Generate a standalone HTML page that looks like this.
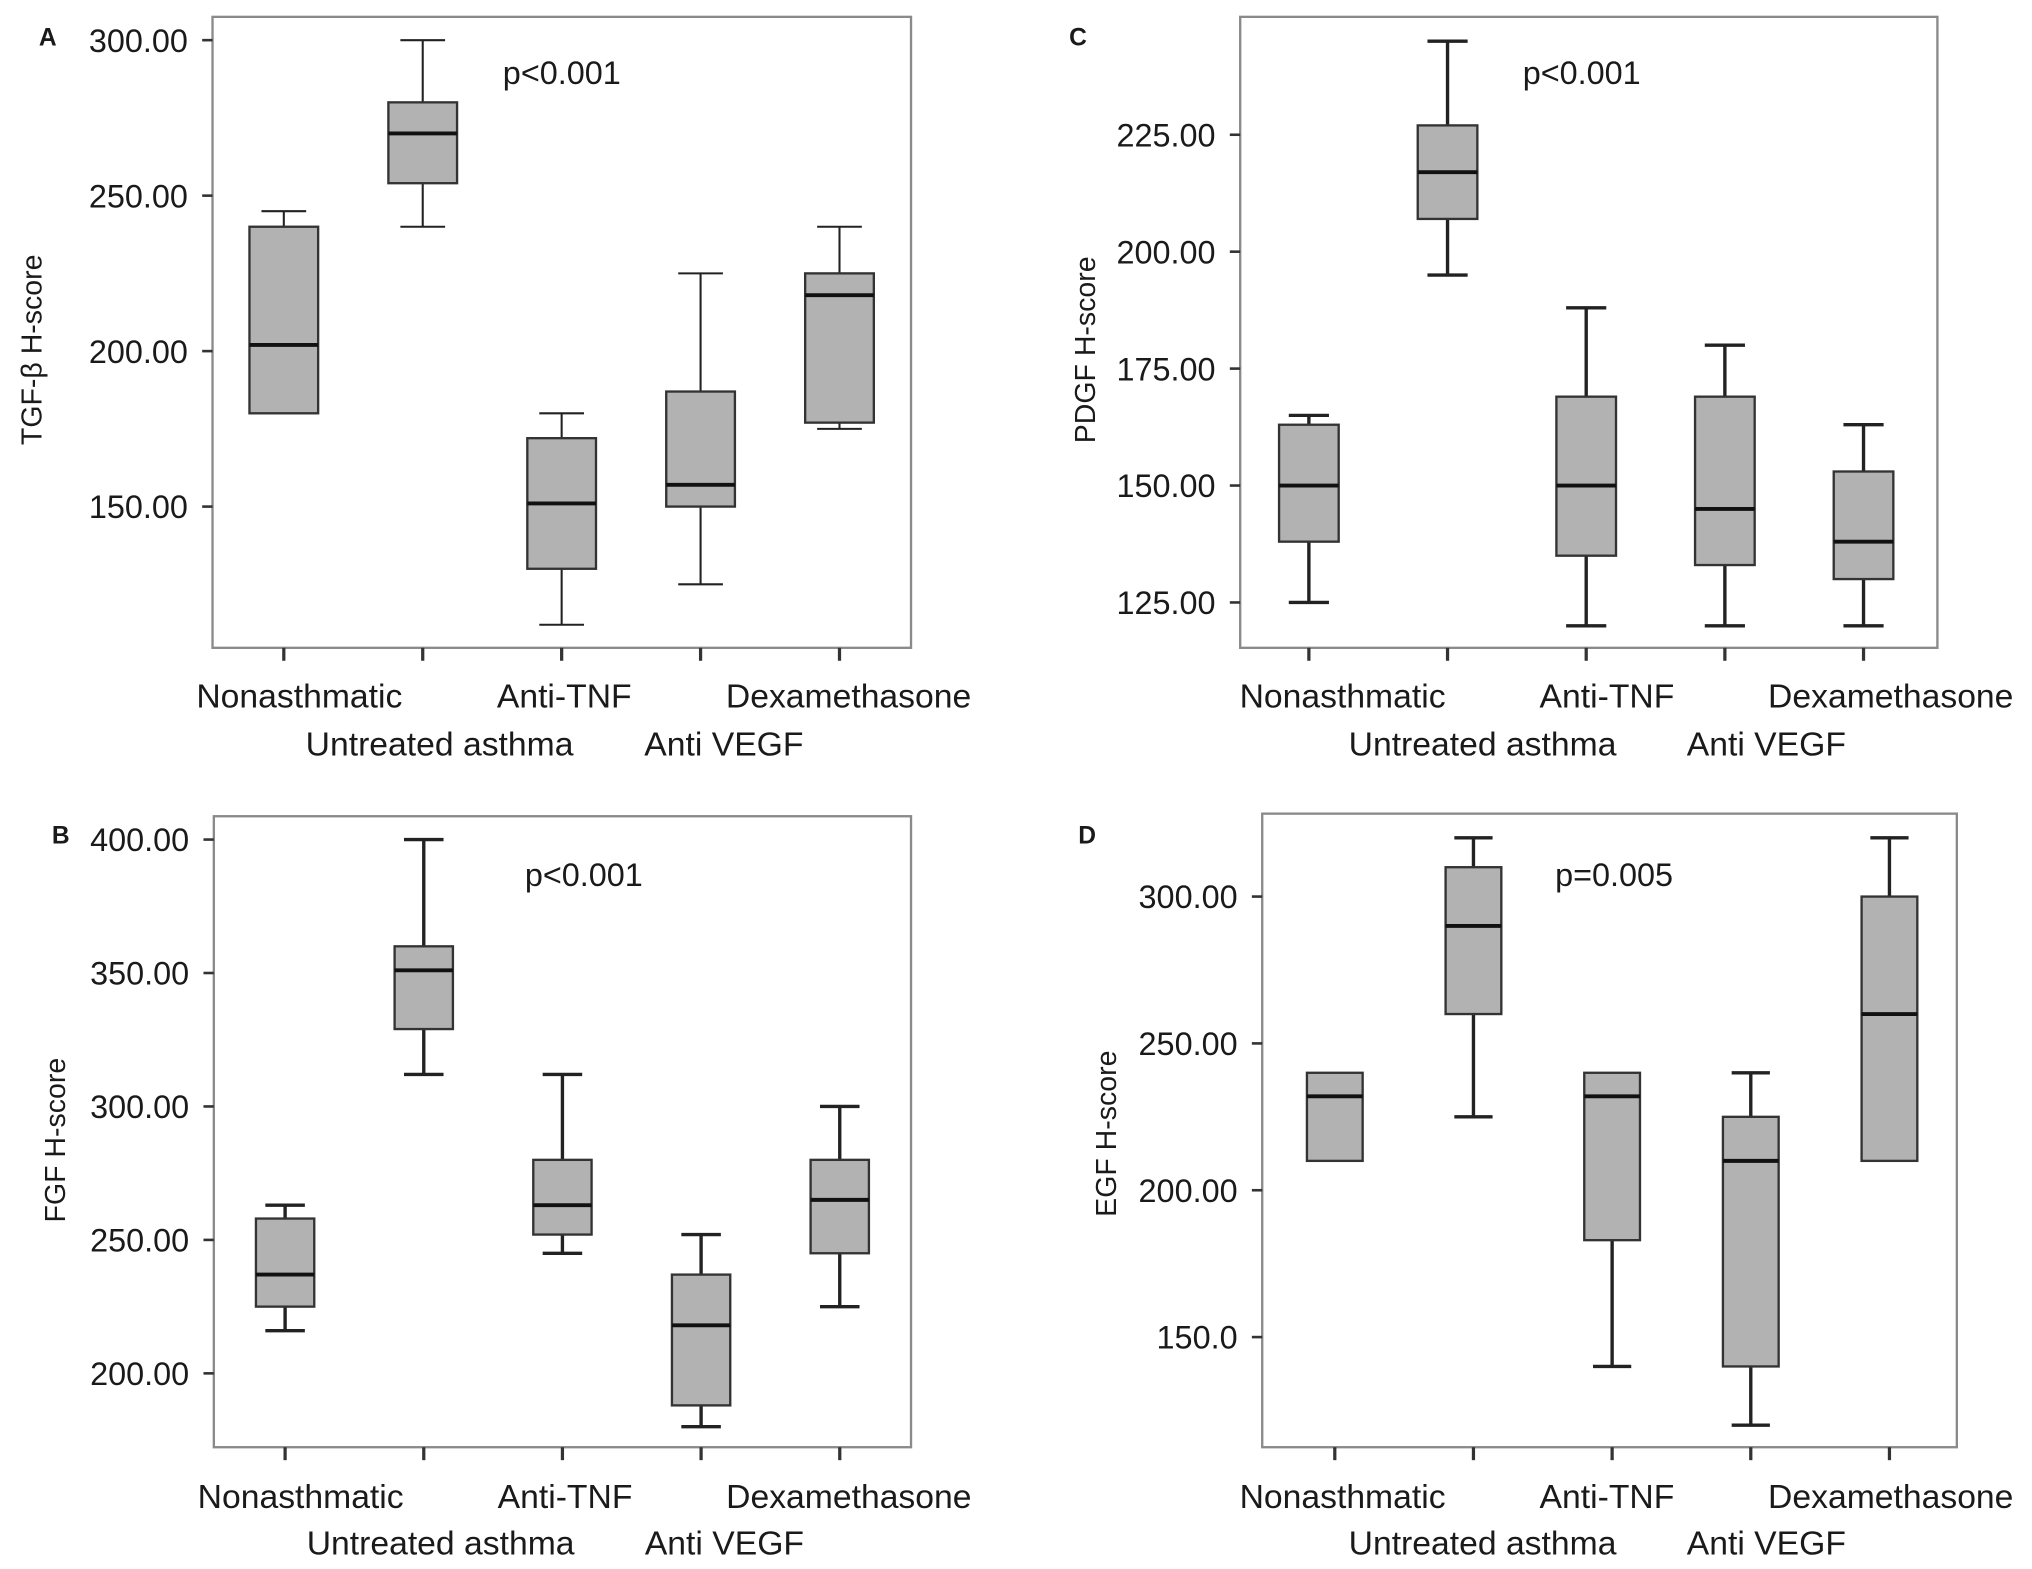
<!DOCTYPE html>
<html><head><meta charset="utf-8"><style>
html,body{margin:0;padding:0;background:#fff}
svg{display:block}
text{font-family:"Liberation Sans",Arial,sans-serif;fill:#1a1a1a}
</style></head><body>
<svg id="fig" width="2032" height="1569" viewBox="0 0 1568 1211" preserveAspectRatio="none" xmlns="http://www.w3.org/2000/svg"></svg>
<script>
const categories = ["Nonasthmatic","Untreated asthma","Anti-TNF","Anti VEGF","Dexamethasone"];
// [min, q1, median, q3, max]
const tgfValues = [[180,180,202,240,245],[240,254,270,280,300],[112,130,151,172,180],[125,150,157,187,225],[175,177,218,225,240]];
const pdgfValues = [[125,138,150,163,165],[195,207,217,227,245],[120,135,150,169,188],[120,133,145,169,180],[120,130,138,153,163]];
const fgfValues = [[216,225,237,258,263],[312,329,351,360,400],[245,252,263,280,312],[180,188,218,237,252],[225,245,265,280,300]];
const egfValues = [[210,210,232,240,240],[225,260,290,310,320],[140,183,232,240,240],[120,140,210,225,240],[210,210,260,300,320]];
const tgfTicks = [150,200,250,300];
const pdgfTicks = [125,150,175,200,225];
const fgfTicks = [200,250,300,350,400];
const egfTicks = [150,200,250,300];

const NS="http://www.w3.org/2000/svg";
const svg=document.getElementById('fig');
function mk(tag,attrs,parent){const e=document.createElementNS(NS,tag);for(const k in attrs)e.setAttribute(k,attrs[k]);(parent||svg).appendChild(e);return e;}
const labelShift=[12,13,2,18,7];

const panels=[
 {id:'a',letter:'A',title:'TGF-β H-score',p:'p<0.001',px:388,py:65,vals:tgfValues,ticks:tgfTicks,tickFmt:v=>v.toFixed(2),
  fx0:164,fx1:703,fy0:13,fy1:500,v0:300,y0:31,v1:150,y1:391,cx0:219,dx:107.2,bw:53,wl:1.6,lab1:546,lab2:583,ty:270,tx:24,lx:30,ly:35,lo:0},
 {id:'c',letter:'C',title:'PDGF H-score',p:'p<0.001',px:1175,py:65,vals:pdgfValues,ticks:pdgfTicks,tickFmt:v=>v.toFixed(2),
  fx0:957,fx1:1495,fy0:13,fy1:500,v0:225,y0:104,v1:125,y1:465,cx0:1010,dx:107,bw:46,wl:2.6,lab1:546,lab2:583,ty:270,tx:837,lx:825,ly:35,lo:14},
 {id:'b',letter:'B',title:'FGF H-score',p:'p<0.001',px:405,py:684,vals:fgfValues,ticks:fgfTicks,tickFmt:v=>v.toFixed(2),
  fx0:165,fx1:703,fy0:630,fy1:1117,v0:400,y0:648,v1:200,y1:1060,cx0:220,dx:107,bw:45,wl:2.6,lab1:1164,lab2:1200,ty:880,tx:42,lx:40,ly:651,lo:0},
 {id:'d',letter:'D',title:'EGF H-score',p:'p=0.005',px:1200,py:684,vals:egfValues,ticks:egfTicks,tickFmt:v=>v===150?'150.0':v.toFixed(2),
  fx0:974,fx1:1510,fy0:628,fy1:1117,v0:300,y0:692,v1:150,y1:1032,cx0:1030,dx:107,bw:43,wl:2.6,lab1:1164,lab2:1200,ty:875,tx:853,lx:832,ly:651,lo:-6}
];

panels.forEach(P=>{
 const g=mk('g',{});
 
 
 const ys=v=>P.y0+(v-P.v0)*(P.y1-P.y0)/(P.v1-P.v0);
 const xs=i=>P.cx0+i*P.dx;
 const fr=mk('rect',{x:P.fx0,y:P.fy0,width:P.fx1-P.fx0,height:P.fy1-P.fy0,fill:'none',stroke:'#8a8a8a','stroke-width':1.8},g);
 
 
 const L=mk('text',{x:P.lx,y:P.ly,'font-size':19,'font-weight':'bold'},g);
 L.textContent=P.letter;
 
 
 const yt=mk('text',{x:P.tx,y:P.ty,'font-size':22,'text-anchor':'middle',transform:`rotate(-90 ${P.tx} ${P.ty})`,dy:8},g);
 yt.textContent=P.title;
 
 
 const pt=mk('text',{x:P.px,y:P.py,'font-size':25},g);
 pt.textContent=P.p;
 
 
 P.ticks.forEach(t=>{
  const y=ys(t);
  const tl=mk('line',{x1:P.fx0-8,x2:P.fx0,y1:y,y2:y,stroke:'#333','stroke-width':2},g);
  
  
  const tt=mk('text',{x:P.fx0-19,y:y+9,'font-size':25,'text-anchor':'end'},g);
  tt.textContent=P.tickFmt(t);
  
  
 });
 categories.forEach((c,i)=>{
  const x=xs(i);
  const xt=mk('line',{x1:x,x2:x,y1:P.fy1,y2:P.fy1+10,stroke:'#333','stroke-width':2.5},g);
  
  
  const ct=mk('text',{x:x+labelShift[i]+P.lo,y:i%2===0?P.lab1:P.lab2,'font-size':26,'text-anchor':'middle'},g);
  ct.textContent=c;
  
  
  const v=P.vals[i];
  const bg=mk('g',{},g);
  
  
  const cap=P.bw*0.5;
  if(v[4]>v[3]){
   mk('line',{x1:x,x2:x,y1:ys(v[4]),y2:ys(v[3]),stroke:'#222','stroke-width':P.wl},bg);
   mk('line',{x1:x-cap/2-4,x2:x+cap/2+4,y1:ys(v[4]),y2:ys(v[4]),stroke:'#222','stroke-width':P.wl},bg);
  }
  if(v[0]<v[1]){
   mk('line',{x1:x,x2:x,y1:ys(v[1]),y2:ys(v[0]),stroke:'#222','stroke-width':P.wl},bg);
   mk('line',{x1:x-cap/2-4,x2:x+cap/2+4,y1:ys(v[0]),y2:ys(v[0]),stroke:'#222','stroke-width':P.wl},bg);
  }
  mk('rect',{x:x-P.bw/2,y:ys(v[3]),width:P.bw,height:ys(v[1])-ys(v[3]),fill:'#b2b2b2',stroke:'#333','stroke-width':1.8},bg);
  mk('line',{x1:x-P.bw/2,x2:x+P.bw/2,y1:ys(v[2]),y2:ys(v[2]),stroke:'#111','stroke-width':3},bg);
 });
});
</script>
</body></html>
